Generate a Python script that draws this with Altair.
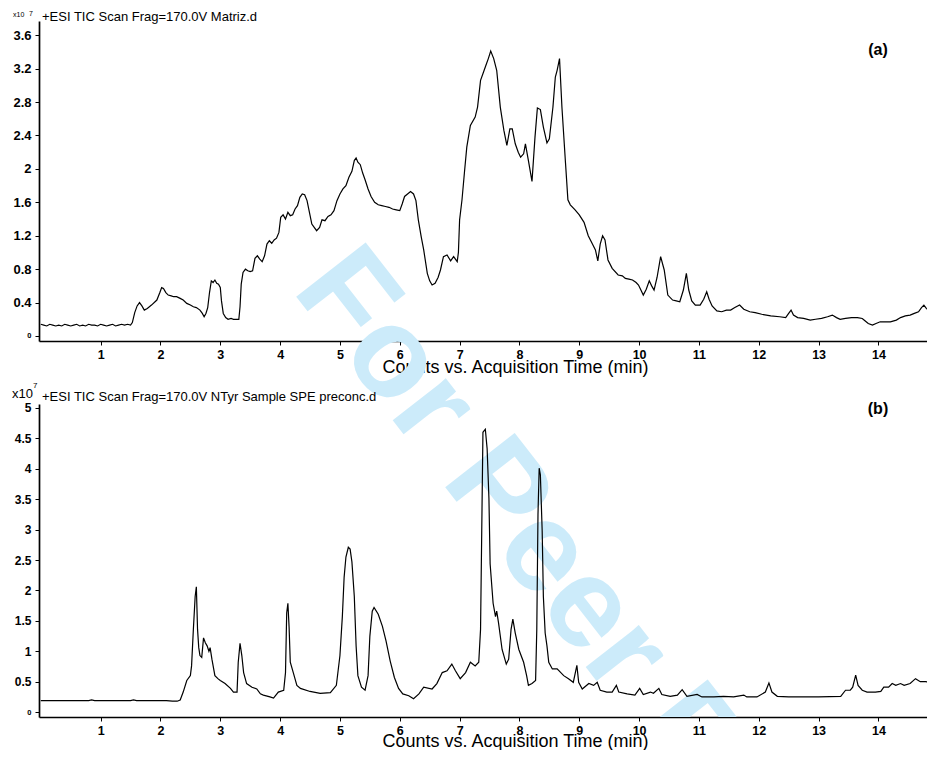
import altair as alt
import pandas as pd

# ---------------- data ----------------
# Panel (a): Matriz.d   time (min) / TIC (x10^7)
time_a = [0.0, 0.05, 0.1, 0.15, 0.2, 0.25, 0.3, 0.35, 0.4, 0.45, 0.5, 0.55, 0.6, 0.65, 0.7, 0.75,
          0.8, 0.85, 0.9, 0.95, 1.0, 1.05, 1.1, 1.15, 1.2, 1.25, 1.3, 1.35, 1.4, 1.45, 1.5,
          1.53, 1.57, 1.61, 1.65, 1.69, 1.73, 1.78, 1.85, 1.94, 1.99, 2.02, 2.05, 2.09, 2.13, 2.18,
          2.22, 2.27, 2.33, 2.38, 2.44, 2.5, 2.55, 2.6, 2.66, 2.7, 2.73, 2.76, 2.79, 2.82, 2.85,
          2.88, 2.91, 2.94, 2.97, 3.0, 3.02, 3.05, 3.09, 3.13, 3.18, 3.22, 3.27, 3.31, 3.33, 3.35,
          3.38, 3.42, 3.46, 3.5, 3.54, 3.58, 3.62, 3.66, 3.7, 3.74, 3.78, 3.82, 3.86, 3.9, 3.94,
          3.98, 4.01, 4.05, 4.09, 4.13, 4.17, 4.21, 4.25, 4.29, 4.33, 4.37, 4.41, 4.45, 4.49, 4.53,
          4.57, 4.61, 4.66, 4.7, 4.75, 4.8, 4.85, 4.9, 4.95, 5.0, 5.05, 5.1, 5.15, 5.2, 5.24, 5.27,
          5.3, 5.34, 5.38, 5.42, 5.47, 5.52, 5.58, 5.64, 5.7, 5.76, 5.82, 5.88, 5.94, 6.0, 6.04,
          6.08, 6.13, 6.18, 6.23, 6.27, 6.31, 6.36, 6.4, 6.46, 6.5, 6.54, 6.59, 6.64, 6.68, 6.73,
          6.79, 6.85, 6.9, 6.96, 6.98, 7.0, 7.04, 7.08, 7.12, 7.18, 7.26, 7.3, 7.35, 7.4, 7.44,
          7.48, 7.52, 7.57, 7.62, 7.68, 7.74, 7.79, 7.84, 7.88, 7.93, 7.98, 8.02, 8.07, 8.1, 8.15,
          8.21, 8.26, 8.3, 8.35, 8.4, 8.46, 8.5, 8.56, 8.6, 8.63, 8.67, 8.71, 8.77, 8.81, 8.85,
          8.93, 9.0, 9.08, 9.15, 9.22, 9.27, 9.31, 9.35, 9.39, 9.43, 9.48, 9.55, 9.65, 9.72, 9.77,
          9.83, 9.89, 9.95, 9.99, 10.03, 10.07, 10.12, 10.17, 10.21, 10.25, 10.3, 10.36, 10.42,
          10.48, 10.56, 10.62, 10.68, 10.74, 10.79, 10.83, 10.88, 10.94, 11.02, 11.08, 11.13,
          11.17, 11.22, 11.3, 11.38, 11.46, 11.53, 11.6, 11.68, 11.75, 11.85, 11.94, 12.05, 12.2,
          12.35, 12.45, 12.5, 12.54, 12.58, 12.65, 12.75, 12.86, 12.95, 13.05, 13.15, 13.23, 13.3,
          13.36, 13.45, 13.55, 13.65, 13.73, 13.78, 13.83, 13.9, 13.96, 14.03, 14.12, 14.2, 14.3,
          14.37, 14.45, 14.53, 14.6, 14.67, 14.72, 14.76, 14.8, 14.84, 14.9, 14.95]
tic_a = [0.14, 0.13, 0.12, 0.14, 0.13, 0.12, 0.13, 0.12, 0.14, 0.13, 0.12, 0.13, 0.14, 0.12, 0.13,
         0.12, 0.14, 0.13, 0.13, 0.12, 0.14, 0.13, 0.12, 0.13, 0.14, 0.12, 0.13, 0.14, 0.13, 0.14, 0.13,
         0.16, 0.28, 0.36, 0.40, 0.36, 0.31, 0.33, 0.37, 0.43, 0.52, 0.58, 0.57, 0.52, 0.49, 0.48,
         0.47, 0.47, 0.45, 0.43, 0.39, 0.37, 0.35, 0.34, 0.31, 0.27, 0.23, 0.27, 0.34, 0.52, 0.66,
         0.64, 0.67, 0.63, 0.62, 0.58, 0.42, 0.27, 0.22, 0.20, 0.21, 0.20, 0.20, 0.20, 0.35, 0.62,
         0.76, 0.80, 0.78, 0.77, 0.78, 0.93, 0.96, 0.92, 0.89, 0.96, 1.10, 1.14, 1.11, 1.15, 1.17,
         1.24, 1.42, 1.45, 1.40, 1.48, 1.44, 1.45, 1.52, 1.56, 1.66, 1.70, 1.69, 1.62, 1.48, 1.34,
         1.30, 1.26, 1.30, 1.39, 1.38, 1.43, 1.45, 1.50, 1.62, 1.70, 1.76, 1.80, 1.90, 1.97, 2.10, 2.13,
         2.08, 2.05, 1.95, 1.87, 1.76, 1.67, 1.60, 1.57, 1.56, 1.55, 1.54, 1.52, 1.51, 1.50, 1.58,
         1.67, 1.70, 1.73, 1.70, 1.62, 1.39, 1.18, 1.03, 0.75, 0.66, 0.61, 0.63, 0.70, 0.79, 0.95,
         0.97, 0.90, 0.95, 0.89, 1.00, 1.39, 1.63, 1.95, 2.26, 2.52, 2.62, 2.74, 3.06, 3.16, 3.24,
         3.32, 3.41, 3.32, 3.18, 2.74, 2.46, 2.28, 2.48, 2.48, 2.30, 2.20, 2.14, 2.18, 2.30, 2.10,
         1.85, 2.38, 2.73, 2.71, 2.50, 2.31, 2.36, 2.74, 3.10, 3.18, 3.32, 2.74, 2.07, 1.63, 1.57,
         1.51, 1.45, 1.36, 1.20, 1.10, 1.03, 0.90, 1.10, 1.20, 1.15, 0.91, 0.81, 0.73, 0.72, 0.69,
         0.68, 0.67, 0.64, 0.61, 0.55, 0.49, 0.56, 0.66, 0.60, 0.55, 0.70, 0.95, 0.79,
         0.49, 0.43, 0.42, 0.41, 0.55, 0.75, 0.55, 0.42, 0.37, 0.37, 0.44, 0.53,
         0.44, 0.36, 0.30, 0.29, 0.31, 0.31, 0.34, 0.37, 0.32, 0.29, 0.28, 0.26, 0.24,
         0.23, 0.22, 0.27, 0.31, 0.25, 0.22, 0.21, 0.19, 0.20, 0.21, 0.23, 0.25, 0.22,
         0.20, 0.21, 0.22, 0.22, 0.21, 0.18, 0.15, 0.13, 0.15, 0.17, 0.17, 0.17, 0.19,
         0.22, 0.24, 0.25, 0.27, 0.29, 0.34, 0.37, 0.33, 0.31, 0.33, 0.33]

# Panel (b): NTyr Sample SPE preconc.d
time_b = [0.0, 0.3, 0.6, 0.8, 0.85, 0.9, 1.2, 1.5, 1.55, 1.6, 1.9, 2.1, 2.2, 2.28, 2.33,
          2.38, 2.44, 2.5, 2.52, 2.55, 2.58, 2.6, 2.62, 2.64, 2.66, 2.69, 2.72, 2.75, 2.78, 2.81,
          2.83, 2.86, 2.91, 2.96, 3.0, 3.08, 3.17, 3.22, 3.28, 3.3, 3.33, 3.36, 3.39, 3.44, 3.53,
          3.61, 3.67, 3.72, 3.83, 3.89, 3.97, 4.06, 4.09, 4.11, 4.13, 4.15, 4.17, 4.22, 4.28, 4.34,
          4.5, 4.67, 4.84, 4.94, 5.0, 5.04, 5.07, 5.1, 5.14, 5.17, 5.2, 5.24, 5.27, 5.3, 5.36,
          5.42, 5.47, 5.5, 5.54, 5.57, 5.64, 5.71, 5.77, 5.84, 5.91, 5.98, 6.05, 6.15, 6.23, 6.32,
          6.4, 6.54, 6.62, 6.71, 6.79, 6.87, 6.93, 7.01, 7.1, 7.18, 7.26, 7.32, 7.35, 7.37, 7.39,
          7.43, 7.46, 7.49, 7.51, 7.56, 7.6, 7.62, 7.65, 7.71, 7.78, 7.82, 7.86, 7.89, 7.93, 7.99,
          8.07, 8.12, 8.15, 8.21, 8.27, 8.29, 8.31, 8.33, 8.35, 8.38, 8.4, 8.43, 8.46, 8.49, 8.55,
          8.63, 8.74, 8.82, 8.9, 8.96, 8.99, 9.05, 9.16, 9.24, 9.3, 9.35, 9.46, 9.55, 9.62, 9.66,
          9.8, 9.93, 10.01, 10.07, 10.19, 10.24, 10.33, 10.38, 10.52, 10.64, 10.72, 10.8, 10.97,
          11.05, 11.25, 11.41, 11.58, 11.75, 11.8, 11.97, 12.11, 12.17, 12.22, 12.31, 12.5, 12.7,
          13.0, 13.37, 13.45, 13.53, 13.57, 13.62, 13.66, 13.73, 13.81, 13.95, 14.04, 14.09, 14.17,
          14.23, 14.29, 14.37, 14.43, 14.53, 14.62, 14.7, 14.79, 14.87, 14.95]
tic_b = [0.19, 0.19, 0.19, 0.19, 0.20, 0.19, 0.19, 0.19, 0.20, 0.19, 0.19, 0.19, 0.18, 0.18, 0.20,
         0.33, 0.52, 0.60, 0.76, 1.36, 1.90, 2.06, 1.36, 1.06, 0.93, 0.90, 1.22, 1.14, 1.09, 1.00,
         1.06, 0.87, 0.60, 0.55, 0.52, 0.47, 0.39, 0.33, 0.33, 0.82, 1.13, 0.93, 0.65, 0.47, 0.41,
         0.38, 0.30, 0.28, 0.25, 0.23, 0.33, 0.36, 0.65, 1.63, 1.79, 1.40, 0.82, 0.65, 0.44, 0.39,
         0.34, 0.31, 0.32, 0.44, 0.93, 1.57, 2.22, 2.55, 2.71, 2.68, 2.47, 1.90, 1.09, 0.60, 0.41,
         0.36, 0.60, 1.25, 1.66, 1.72, 1.61, 1.41, 1.17, 0.84, 0.57, 0.39, 0.30, 0.27, 0.22, 0.30,
         0.41, 0.38, 0.47, 0.65, 0.68, 0.79, 0.68, 0.55, 0.65, 0.82, 0.76, 0.82, 1.36, 2.98, 4.60,
         4.65, 4.33, 3.52, 2.44, 1.79, 1.57, 1.66, 1.47, 1.03, 0.79, 0.87, 1.36, 1.53, 1.30, 1.03,
         0.82, 0.60, 0.44, 0.47, 0.52, 1.36, 3.25, 4.01, 3.90, 2.98, 1.90, 1.30, 1.09, 0.82, 0.71,
         0.71, 0.60, 0.55, 0.49, 0.77, 0.49, 0.38, 0.47, 0.44, 0.49, 0.36, 0.33, 0.33, 0.44, 0.33,
         0.30, 0.28, 0.39, 0.29, 0.33, 0.31, 0.39, 0.29, 0.26, 0.28, 0.37, 0.26, 0.29,
         0.25, 0.25, 0.26, 0.25, 0.28, 0.25, 0.25, 0.33, 0.48, 0.33, 0.26, 0.25, 0.25,
         0.25, 0.26, 0.36, 0.36, 0.41, 0.61, 0.44, 0.36, 0.33, 0.33, 0.34, 0.41, 0.41,
         0.47, 0.44, 0.47, 0.44, 0.47, 0.55, 0.50, 0.50, 0.49, 0.52]

x_ticks = list(range(1, 15))
y_ticks_a = [0, 0.4, 0.8, 1.2, 1.6, 2, 2.4, 2.8, 3.2, 3.6]
y_ticks_b = [0, 0.5, 1, 1.5, 2, 2.5, 3, 3.5, 4, 4.5, 5]

header_a = "+ESI TIC Scan Frag=170.0V Matriz.d"
header_b = "+ESI TIC Scan Frag=170.0V NTyr Sample SPE preconc.d"
x_title = "Counts vs. Acquisition Time (min)"
exp_base = "x10"
exp_power = "7"
panel_a_tag = "(a)"
panel_b_tag = "(b)"
wm_part1 = "For"
wm_part2 = "Peer"
wm_part3 = "R"

FONT = "Liberation Sans"
WM_COLOR = "#ccebfa"
W = 888
HA = 320
HB = 313


def x_axis(title_y):
    return alt.Axis(values=x_ticks, title=x_title, grid=False,
                    labelFont=FONT, labelFontSize=12.5, labelFontWeight="bold",
                    labelColor="black", labelPadding=3,
                    domainColor="black", domainWidth=1.7, tickColor="black",
                    tickSize=4, tickWidth=1,
                    titleFont=FONT, titleFontSize=18, titleFontWeight="normal",
                    titleColor="black", titleX=476, titleY=title_y,
                    titleAlign="center", titleBaseline="alphabetic")


def y_axis(vals, size):
    return alt.Axis(values=vals, title=None, grid=False,
                    labelExpr="datum.value == 0 ? '0' : format(datum.value, '.1~f')",
                    labelFont=FONT, labelFontWeight="bold", labelColor="black",
                    labelFontSize={"condition": {"test": "datum.value == 0", "value": 7.5},
                                   "value": size},
                    labelPadding=4, domainColor="black", domainWidth=1.7,
                    tickColor="black", tickSize=4, tickWidth=1)


def text_layer(s, x, y, size, weight="normal", align="left", color="black",
               angle=0, clip=False):
    return alt.Chart(pd.DataFrame({"s": [s]})).mark_text(
        align=align, baseline="alphabetic", font=FONT, fontSize=size,
        fontWeight=weight, color=color, angle=angle, clip=clip
    ).encode(x=alt.value(x), y=alt.value(y), text="s:N")


df_a = pd.DataFrame({"t": time_a, "v": tic_a})
df_b = pd.DataFrame({"t": time_b, "v": tic_b})

xscale = alt.Scale(domain=[-0.03, 14.812], nice=False, zero=False)

line_a = alt.Chart(df_a).mark_line(color="black", strokeWidth=1.2, clip=True).encode(
    x=alt.X("t:Q", scale=xscale, axis=x_axis(31.5)),
    y=alt.Y("v:Q", scale=alt.Scale(domain=[-0.06, 3.77], nice=False, zero=False),
            axis=y_axis(y_ticks_a, 13)),
)
line_b = alt.Chart(df_b).mark_line(color="black", strokeWidth=1.2, clip=True).encode(
    x=alt.X("t:Q", scale=xscale, axis=x_axis(29)),
    y=alt.Y("v:Q", scale=alt.Scale(domain=[-0.08, 5.065], nice=False, zero=False),
            axis=y_axis(y_ticks_b, 12)),
)

panel_a = alt.layer(
    text_layer(wm_part1, 252, 269, 128, weight="bold", color=WM_COLOR, angle=52),
    line_a,
    text_layer(exp_base, -26, -4.5, 7),
    text_layer(exp_power, -10, -5.5, 7),
    text_layer(header_a, 3, -0.5, 13),
    text_layer(panel_a_tag, 839, 34, 16, weight="bold", align="center"),
).properties(width=W, height=HA)

panel_b = alt.layer(
    text_layer(wm_part2, 401, 76.5, 128, weight="bold", color=WM_COLOR, angle=52),
    text_layer(wm_part3, 594, 323, 128, weight="bold", color=WM_COLOR, angle=52, clip=True),
    line_b,
    text_layer(exp_base, -27, -6, 13),
    text_layer(exp_power, -6, -16, 8),
    text_layer(header_b, 3, -3, 13),
    text_layer(panel_b_tag, 839, 10, 16, weight="bold", align="center"),
).properties(width=W, height=HB)

chart = alt.vconcat(panel_a, panel_b, spacing=63, bounds="flush").properties(
    padding={"left": 4, "top": 1, "right": 0, "bottom": 0}
).configure_view(stroke=None)

chart.save("out.html", embed_options={"renderer": "svg", "actions": False})
